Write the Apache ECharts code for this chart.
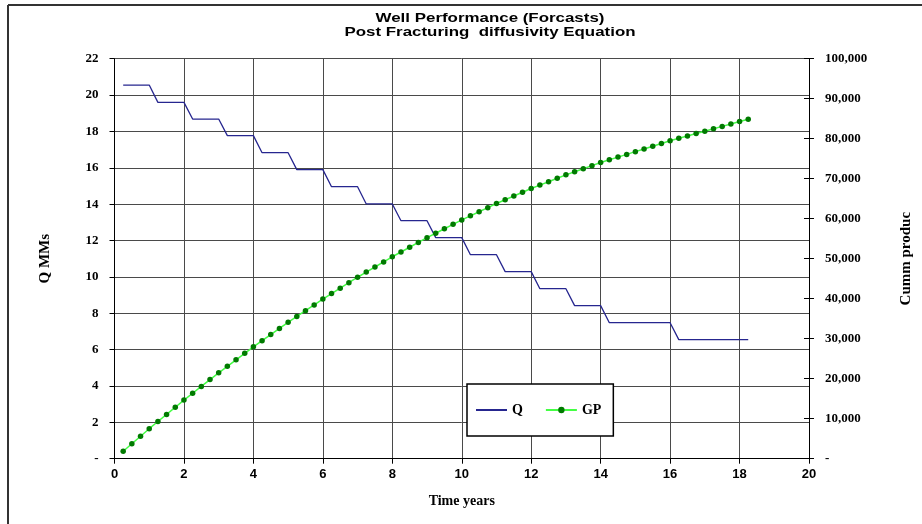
<!DOCTYPE html>
<html><head><meta charset="utf-8">
<script src="https://cdn.jsdelivr.net/npm/echarts@6/dist/echarts.min.js"></script>
<style>html,body{margin:0;padding:0;background:#fff}#c{width:922px;height:524px}</style>
</head><body><div id="c"></div>
<script>
const titleLines = ['Well Performance (Forcasts)', 'Post Fracturing  diffusivity Equation'];
const xName = 'Time years';
const yLeftName = 'Q MMs';
const yRightName = 'Cumm produc';
const seriesNames = ['Q', 'GP'];
const timeYears = [0.25,0.5,0.75,1,1.25,1.5,1.75,2,2.25,2.5,2.75,3,3.25,3.5,3.75,4,4.25,4.5,4.75,5,5.25,5.5,5.75,6,6.25,6.5,6.75,7,7.25,7.5,7.75,8,8.25,8.5,8.75,9,9.25,9.5,9.75,10,10.25,10.5,10.75,11,11.25,11.5,11.75,12,12.25,12.5,12.75,13,13.25,13.5,13.75,14,14.25,14.5,14.75,15,15.25,15.5,15.75,16,16.25,16.5,16.75,17,17.25,17.5,17.75,18,18.25];
const qValues = [20.55,20.55,20.55,20.55,19.6,19.6,19.6,19.6,18.68,18.68,18.68,18.68,17.77,17.77,17.77,17.77,16.83,16.83,16.83,16.83,15.9,15.9,15.9,15.9,14.96,14.96,14.96,14.96,14.01,14.01,14.01,14.01,13.09,13.09,13.09,13.09,12.16,12.16,12.16,12.16,11.22,11.22,11.22,11.22,10.29,10.29,10.29,10.29,9.35,9.35,9.35,9.35,8.42,8.42,8.42,8.42,7.48,7.48,7.48,7.48,7.48,7.48,7.48,7.48,6.55,6.55,6.55,6.55,6.55,6.55,6.55,6.55,6.55];
const gpValues = [1875,3750,5626,7501,9290,11078,12866,14655,16360,18064,19769,21473,23095,24716,26338,27959,29495,31030,32566,34102,35553,37004,38455,39906,41271,42636,44001,45366,46644,47923,49201,50480,51674,52869,54063,55258,56367,57477,58587,59696,60720,61744,62768,63792,64731,65670,66609,67548,68401,69254,70107,70960,71729,72497,73265,74034,74716,75399,76081,76764,77447,78129,78812,79494,80092,80690,81287,81885,82483,83080,83678,84276,84873];
const xTicks = {min: 0, max: 20, interval: 2};
const yLeftTicks = {min: 0, max: 22, interval: 2};
const yRightTicks = {min: 0, max: 100000, interval: 10000};

const serifB = {fontFamily: 'Liberation Serif', fontWeight: 'bold', color: '#000'};
const chart = echarts.init(document.getElementById('c'), null, {renderer: 'canvas'});
const qData = timeYears.map((t, i) => [t, qValues[i]]);
const gpData = timeYears.map((t, i) => [t, gpValues[i]]);
chart.setOption({
  animation: false,
  backgroundColor: '#fff',
  graphic: [
    {type: 'line', shape: {x1: 8, y1: 5, x2: 922, y2: 5}, style: {stroke: '#333', lineWidth: 2}},
    {type: 'line', shape: {x1: 8, y1: 5, x2: 8, y2: 524}, style: {stroke: '#333', lineWidth: 2}},
    {type: 'text', x: 490, y: 18, scaleX: 1.3, style: {text: titleLines[0], align: 'center', verticalAlign: 'middle', font: 'bold 13px "Liberation Sans"', fill: '#000'}},
    {type: 'text', x: 490, y: 32, scaleX: 1.3, style: {text: titleLines[1], align: 'center', verticalAlign: 'middle', font: 'bold 13px "Liberation Sans"', fill: '#000'}}
  ],
  grid: {left: 114.5, right: 106.5, top: 58.7, bottom: 65.3, containLabel: false},
  legend: {
    data: [{name: seriesNames[0], itemStyle: {opacity: 0}}, seriesNames[1]],
    left: 467, top: 384, orient: 'horizontal',
    padding: [19, 12, 19, 8], itemGap: 22, itemWidth: 31, itemHeight: 8,
    borderColor: '#000', borderWidth: 1.5, backgroundColor: '#fff',
    textStyle: Object.assign({fontSize: 14}, serifB)
  },
  xAxis: {
    type: 'value', min: xTicks.min, max: xTicks.max, interval: xTicks.interval,
    name: xName, nameLocation: 'middle', nameGap: 36,
    nameTextStyle: Object.assign({fontSize: 14}, serifB),
    axisLine: {show: true, onZero: false, lineStyle: {color: '#000', width: 1}},
    axisTick: {show: true, inside: false, length: 5, lineStyle: {color: '#000'}},
    axisLabel: {margin: 9, fontFamily: 'Liberation Sans', fontWeight: 'bold', fontSize: 13, color: '#000'},
    splitLine: {show: true, lineStyle: {color: '#4a4a4a', width: 1}}
  },
  yAxis: [
    {
      type: 'value', position: 'left', min: yLeftTicks.min, max: yLeftTicks.max, interval: yLeftTicks.interval,
      name: yLeftName, nameLocation: 'middle', nameGap: 62, nameRotate: 90,
      nameTextStyle: Object.assign({fontSize: 15}, serifB),
      axisLine: {show: true, lineStyle: {color: '#000', width: 1}},
      axisTick: {show: true, length: 5, lineStyle: {color: '#000'}},
      axisLabel: Object.assign({margin: 16, fontSize: 13, formatter: v => v === 0 ? '-' : String(v)}, serifB),
      splitLine: {show: true, lineStyle: {color: '#4a4a4a', width: 1}}
    },
    {
      type: 'value', position: 'right', min: yRightTicks.min, max: yRightTicks.max, interval: yRightTicks.interval,
      name: yRightName, nameLocation: 'middle', nameGap: 90, nameRotate: 90,
      nameTextStyle: Object.assign({fontSize: 15}, serifB),
      axisLine: {show: true, lineStyle: {color: '#000', width: 1}},
      axisTick: {show: true, length: 5, lineStyle: {color: '#000'}},
      axisLabel: Object.assign({margin: 16, fontSize: 13, formatter: v => v === 0 ? '-' : v.toLocaleString('en-US')}, serifB),
      splitLine: {show: false}
    },
    {
      type: 'value', position: 'right', min: yRightTicks.min, max: yRightTicks.max, interval: yRightTicks.interval,
      axisLine: {show: false}, axisLabel: {show: false}, splitLine: {show: false},
      axisTick: {show: true, inside: true, length: 5, lineStyle: {color: '#000'}}
    }
  ],
  series: [
    {
      name: seriesNames[0], type: 'line', yAxisIndex: 0, data: qData,
      symbol: 'none', lineStyle: {color: '#26268f', width: 1.3}, itemStyle: {color: '#26268f'}, z: 3
    },
    {
      name: seriesNames[1], type: 'line', yAxisIndex: 1, data: gpData,
      symbol: 'circle', symbolSize: 5.5, showSymbol: true,
      lineStyle: {color: '#44ff44', width: 1.5}, itemStyle: {color: '#007a00'}, z: 4
    }
  ]
});
</script>
</body></html>
